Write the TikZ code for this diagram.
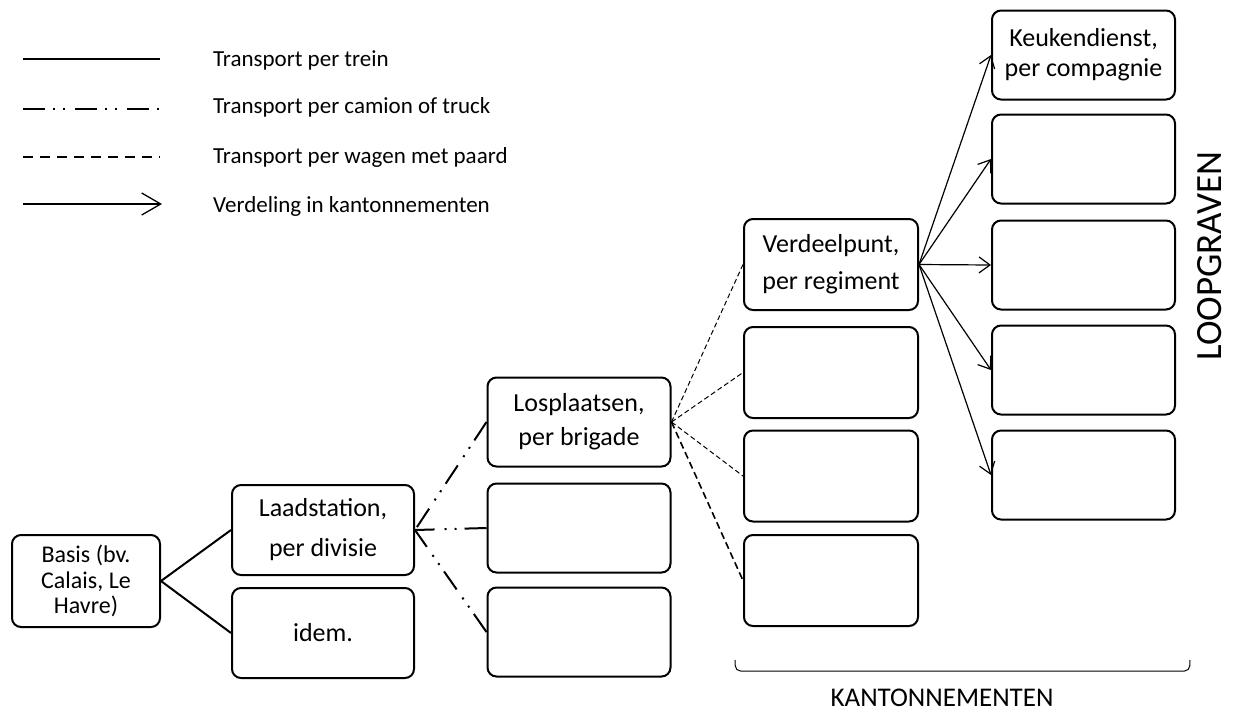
\documentclass[tikz,border=0pt]{standalone}
\usepackage{fontspec}
\setmainfont{Carlito}
\usetikzlibrary{arrows.meta}
\begin{document}
\begin{tikzpicture}[x=1pt,y=-1pt,
  box/.style={draw, line width=2pt, rounded corners=9pt, align=center, inner sep=0pt,
    font=\fontsize{26}{37}\selectfont},
  train/.style={line width=2pt},
  camion/.style={line width=2pt, dash pattern=on 22pt off 8pt on 2pt off 8pt on 2pt off 10pt},
  wagen/.style={line width=1pt, dash pattern=on 5pt off 3pt},
  wagenthick/.style={line width=1.6pt, dash pattern=on 7pt off 4pt},
  verdeel/.style={line width=1.2pt, -{Straight Barb[length=11pt,width=16pt]}},
  legtext/.style={anchor=base west, font=\fontsize{23}{28}\selectfont, inner sep=0pt}
]
\useasboundingbox (0,0) rectangle (1235,713);

% legend
\coordinate (l1a) at (23,59); \coordinate (l1b) at (160,59);
\coordinate (l2a) at (23,109); \coordinate (l2b) at (160,109);
\coordinate (l3a) at (23,157); \coordinate (l3b) at (160,157);
\coordinate (l4a) at (23,204); \coordinate (l4b) at (162,204);
\draw[line width=2.3pt] (l1a) -- (l1b);
\draw[line width=2pt, dash pattern=on 22pt off 8pt on 2pt off 8pt on 2pt off 10pt] (l2a) -- (l2b);
\draw[line width=2pt, dash pattern=on 10pt off 7pt] (l3a) -- (l3b);
\draw[line width=1.3pt, -{Straight Barb[length=19pt,width=22pt]}] (l4a) -- (l4b);
\node[legtext] (t1) at (213,66) {Transport per trein};
\node[legtext] (t2) at (213,113) {Transport per camion of truck};
\node[legtext] (t3) at (213,163) {Transport per wagen met paard};
\node[legtext] (t4) at (213,212) {Verdeling in kantonnementen};

% boxes
\node[box, minimum width=148pt, minimum height=92pt, font=\fontsize{24}{25.5}\selectfont] (basis) at (86,581) {Basis (bv.\\Calais, Le\\Havre)};
\node[box, minimum width=182pt, minimum height=90pt, font=\fontsize{26}{40}\selectfont] (laad) at (323,530) {Laadstation,\\per divisie};
\node[box, minimum width=182pt, minimum height=90pt] (idem) at (323,633) {idem.};

\node[box, minimum width=183pt, minimum height=89pt, font=\fontsize{26}{34}\selectfont] (los1) at (579,422) {Losplaatsen,\\per brigade};
\node[box, minimum width=183pt, minimum height=89pt] (los2) at (579,528) {};
\node[box, minimum width=183pt, minimum height=89pt] (los3) at (579,632) {};

\node[box, minimum width=174pt, minimum height=91pt] (ver1) at (831,264.5) {Verdeelpunt,\\per regiment};
\node[box, minimum width=174pt, minimum height=91pt] (ver2) at (831,372.5) {};
\node[box, minimum width=174pt, minimum height=91pt] (ver3) at (831,476) {};
\node[box, minimum width=174pt, minimum height=91pt] (ver4) at (831,580.5) {};

\node[box, minimum width=183pt, minimum height=89pt, font=\fontsize{26}{30}\selectfont] (keu1) at (1083.5,55) {Keukendienst,\\per compagnie};
\node[box, minimum width=183pt, minimum height=89pt] (keu2) at (1083.5,159) {};
\node[box, minimum width=183pt, minimum height=89pt] (keu3) at (1083.5,265) {};
\node[box, minimum width=183pt, minimum height=89pt] (keu4) at (1083.5,370) {};
\node[box, minimum width=183pt, minimum height=89pt] (keu5) at (1083.5,475) {};

% connectors
\draw[train] (basis.east) -- (laad.west);
\draw[train] (basis.east) -- (idem.west);

\draw[camion] (los1.west) -- (laad.east);
\draw[camion] (los2.west) -- (laad.east);
\draw[camion] (los3.west) -- (laad.east);

\draw[wagen] (los1.east) -- (ver1.west);
\draw[wagen] (los1.east) -- (ver2.west);
\draw[wagen] (los1.east) -- (ver3.west);
\draw[wagenthick] (los1.east) -- (ver4.west);

\draw[verdeel] (ver1.east) -- (keu1.west);
\draw[verdeel] (ver1.east) -- (keu2.west);
\draw[verdeel] (ver1.east) -- (keu3.west);
\draw[verdeel] (ver1.east) -- (keu4.west);
\draw[verdeel] (ver1.east) -- (keu5.west);

% labels
\node[rotate=90, font=\fontsize{37}{40}\selectfont, inner sep=0pt] (loop) at (1210,256) {LOOPGRAVEN};
\coordinate (b1) at (735,660); \coordinate (b2) at (1190,660);
\draw[line width=1pt, rounded corners=5pt] (b1) -- (735.5,671) -- (1189.5,671) -- (b2);
\node[font=\fontsize{27}{30}\selectfont, inner sep=0pt] (kant) at (942,698) {KANTONNEMENTEN};
\end{tikzpicture}
\end{document}
